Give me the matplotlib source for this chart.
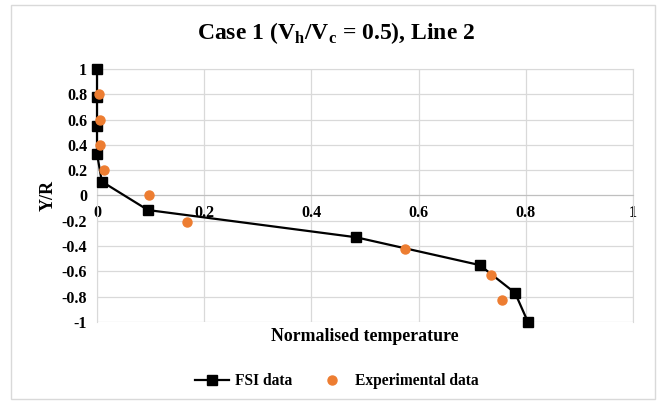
import matplotlib
matplotlib.use("Agg")
import matplotlib.pyplot as plt
from matplotlib.patches import Rectangle

# FSI simulation results
fsi_temp = [0.0, 0.0, 0.0, 0.0, 0.009, 0.095, 0.483, 0.714, 0.78, 0.804]
fsi_yr = [1.0, 0.78, 0.55, 0.33, 0.11, -0.115, -0.33, -0.55, -0.77, -1.0]

# experimental measurements
exp_temp = [0.004, 0.006, 0.006, 0.013, 0.097, 0.168, 0.575, 0.735, 0.756]
exp_yr = [0.80, 0.60, 0.40, 0.20, 0.0, -0.21, -0.42, -0.63, -0.83]

x_ticks = [0, 0.2, 0.4, 0.6, 0.8, 1]
x_tick_labels = ["0", "0.2", "0.4", "0.6", "0.8", "1"]
y_ticks = [1, 0.8, 0.6, 0.4, 0.2, 0, -0.2, -0.4, -0.6, -0.8, -1]
y_tick_labels = ["1", "0.8", "0.6", "0.4", "0.2", "0", "-0.2", "-0.4", "-0.6", "-0.8", "-1"]

plt.rcParams['font.family'] = ['Liberation Serif', 'DejaVu Serif']
plt.rcParams['font.weight'] = 'bold'

fig = plt.figure(figsize=(6.59, 4.01), dpi=100)
fig.patches.append(Rectangle((0.017, 0.005), 0.977, 0.982, transform=fig.transFigure,
                             fill=False, edgecolor='#d9d9d9', linewidth=1))

ax = fig.add_axes([0.1472, 0.197, 0.8133, 0.631])
grid_c = '#d9d9d9'

ax.plot(fsi_temp, fsi_yr, color='black', linewidth=1.6, marker='s',
        markersize=6.5, label='FSI data', zorder=3, clip_on=False)
ax.plot(exp_temp, exp_yr, linestyle='none', marker='o', color='#ED7D31',
        markersize=6.5, label='Experimental data', zorder=4, clip_on=False)

ax.set_xlim(0, 1)
ax.set_ylim(-1, 1)
ax.set_xticks(x_ticks)
ax.set_xticklabels(x_tick_labels)
ax.set_yticks(y_ticks)
ax.set_yticklabels(y_tick_labels)
ax.grid(True, color=grid_c, linewidth=0.9)
ax.set_axisbelow(True)

for s in ['top', 'right', 'left']:
    ax.spines[s].set_color(grid_c)
ax.spines['bottom'].set_position(('data', 0))
ax.spines['bottom'].set_color('#bfbfbf')
ax.tick_params(axis='both', length=0, labelsize=11.5)
ax.tick_params(axis='x', pad=7)
ax.tick_params(axis='y', pad=7)

fig.text(0.51, 0.918, "Case 1 (V$_\\mathregular{h}$/V$_\\mathregular{c}$ = 0.5), Line 2",
         ha='center', va='center', fontsize=17, fontweight='bold')
ax.set_ylabel("Y/R", fontsize=13, fontweight='bold', labelpad=4)
fig.text(0.554, 0.16, "Normalised temperature", ha='center', va='center',
         fontsize=12.8, fontweight='bold')

fig.legend(loc='center', bbox_to_anchor=(0.511, 0.05), ncol=2, frameon=False,
           fontsize=11.2, handlelength=2.2, handletextpad=0.35, columnspacing=1.5)

fig.savefig("out.png", dpi=100)
